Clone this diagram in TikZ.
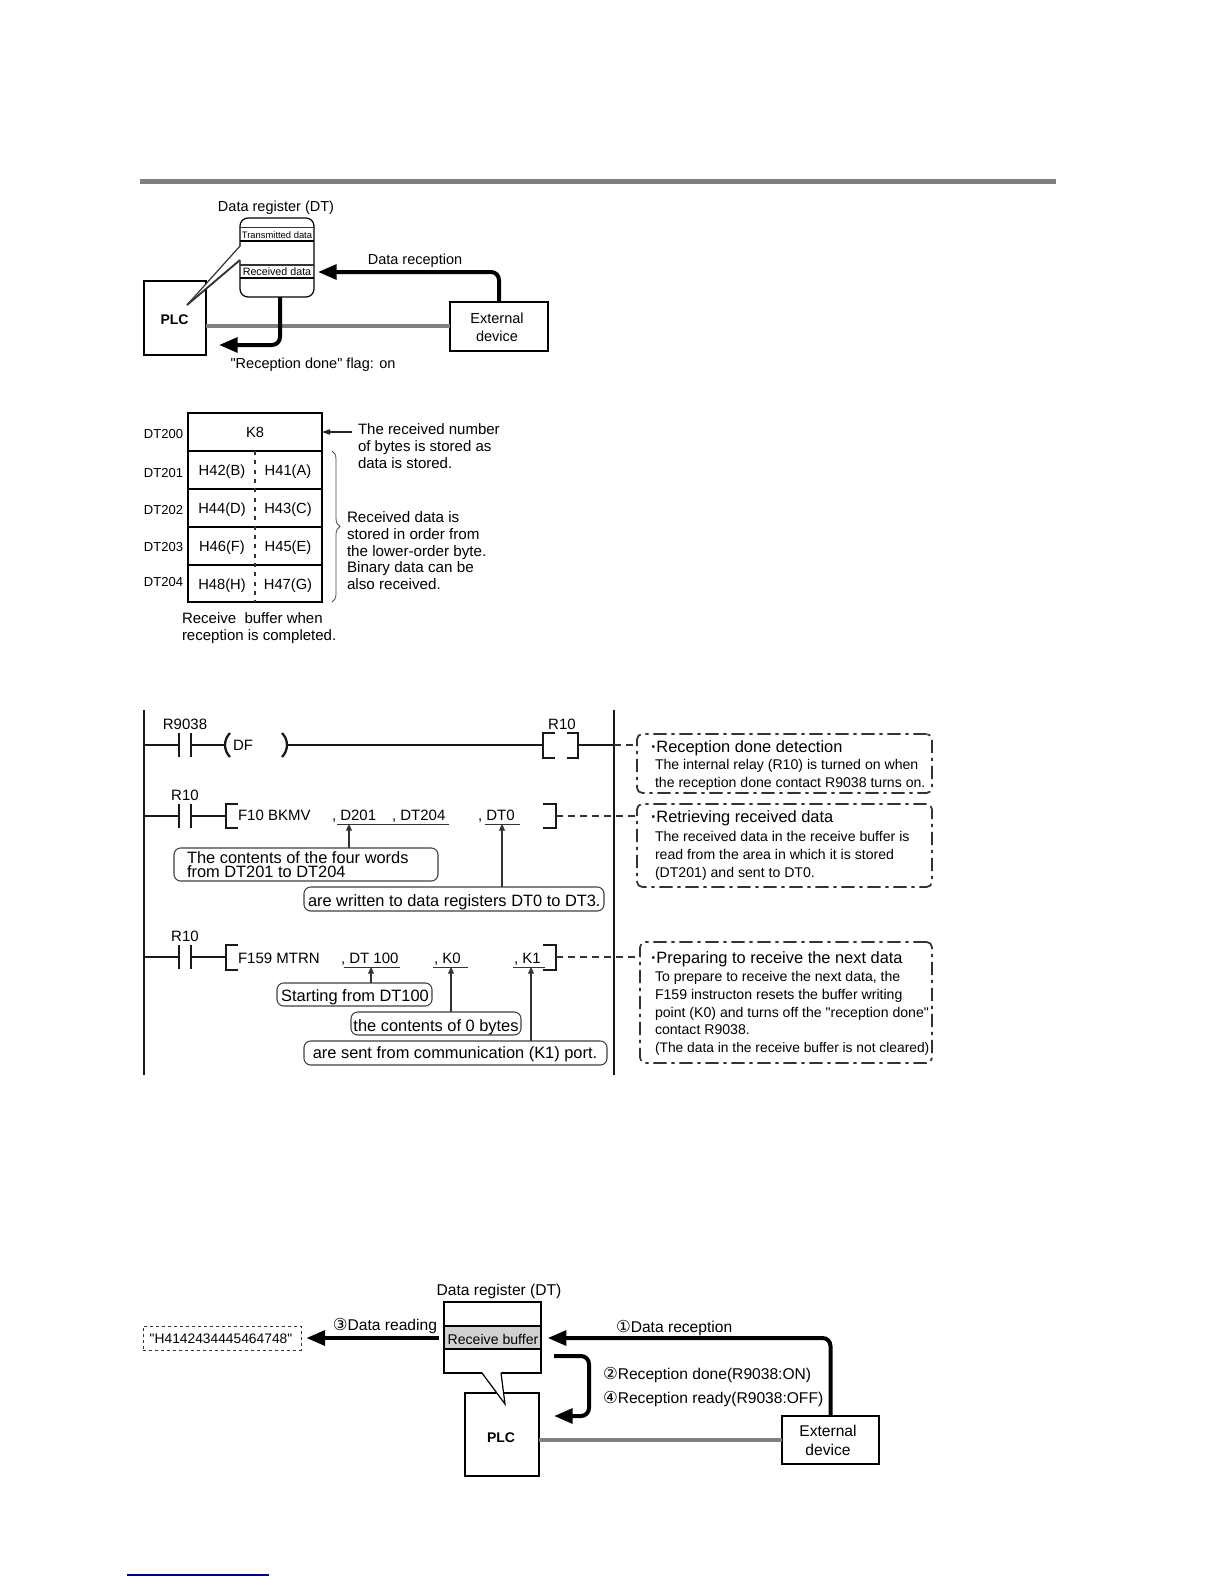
\documentclass[tikz,border=0pt]{standalone}
\usepackage{fontspec}
\setmainfont{Liberation Sans}
\newfontfamily\djv{DejaVu Sans}
\newfontfamily\plainf{Liberation Sans}
\newcommand{\qt}{{\plainf"}}
\usetikzlibrary{arrows.meta,decorations.pathreplacing,calc}
\newcommand{\fs}[1]{\fontsize{\fpeval{#1*0.75}pt}{\fpeval{#1*0.9}pt}\selectfont}
% \pbox{name}{x1}{y1}{x2}{y2}{style}{text}
\newcommand{\pbox}[7]{\node[#6,minimum width={(#4-#2)*0.75pt},minimum height={(#5-#3)*0.75pt}] (#1) at ({(#2+#4)/2},{(#3+#5)/2}) {#7};}
\tikzset{
  x=0.75pt,y=-0.75pt,
  txt/.style={inner sep=0pt,outer sep=0pt,text height=9.6pt,text depth=2pt},
  sbox/.style={draw=black,line width=1.9pt,fill=white,inner sep=0pt,outer sep=0pt},
  regbox/.style={draw=black,line width=0.9pt,fill=white,inner sep=0pt,outer sep=0pt},
  cell/.style={draw=black,line width=1pt,fill=white,inner sep=0pt,outer sep=0pt},
  cbx/.style={draw=black!75,line width=0.8pt,rounded corners=5pt,fill=white,inner sep=0pt,outer sep=0pt},
  cmt/.style={draw=black!80,line width=1.3pt,rounded corners=4pt,dash pattern=on 10pt off 3.5pt on 2.5pt off 3.5pt,inner sep=0pt,outer sep=0pt},
  lbl/.style={txt,font=\fs{15}},
  slbl/.style={txt,font=\fs{14.5}},
  blbl/.style={txt,font=\fs{15.6}},
  dtl/.style={txt,anchor=east,font=\fs{13}},
  lad/.style={txt,anchor=west,font=\fs{15}},
  cbt/.style={txt,font=\fs{16.4}},
  tt/.style={txt,anchor=west,font=\fs{16.4}},
  cl/.style={txt,anchor=west,font=\fs{14.1}},
  bigarrow/.style={draw=black,line width=3pt,rounded corners=6pt,-{Triangle[length=14pt,width=11pt]}},
  thinarrow/.style={draw=black!80,line width=0.8pt,-{Triangle[length=5pt,width=4.5pt]}},
  greyline/.style={draw=black!50,line width=3pt},
  rail/.style={draw=black!90,line width=1.9pt},
  wire/.style={draw=black!90,line width=1.4pt},
  linkdash/.style={draw=black!80,line width=0.8pt,dash pattern=on 5pt off 4pt},
  brk/.style={draw=black!90,line width=1.7pt},
}
\newcommand{\contact}[1]{
  \draw[rail] (179,#1-12) -- (179,#1+12);
  \draw[rail] (191,#1-12) -- (191,#1+12);
}
\begin{document}
\begin{tikzpicture}
\useasboundingbox (0,0) rectangle (1224,1584);
\fill[white] (0,0) rectangle (1224,1584);
% top rule
\fill[black!50] (140,179) rectangle (1056,184);

% ---- diagram 1
\node[slbl] (dr1) at (276,206) {Data register (DT)};
\pbox{ext1}{450}{302}{548}{351}{sbox}{}
\node[slbl] (ext1a) at (497,318) {External};
\node[slbl] (ext1b) at (497,336) {device};
\pbox{plc1}{144}{281}{206}{355}{sbox}{}
\node[txt,font=\fs{14}\bfseries] (plc1t) at (174.5,319) {PLC};
\draw[greyline] (plc1.east |- 0,326) -- (ext1.west |- 0,326);
\draw[regbox,rounded corners=6pt] (240,218) rectangle (314,297);
\node[inner sep=0,outer sep=0,minimum width=55.5pt,minimum height=59.25pt] (reg1) at (277,257.5) {};
\fill[white] (187,305) -- (241,246) -- (241,260) -- cycle;
\draw[black!80,line width=0.9pt] (187,305) -- (240,246);
\draw[black!80,line width=1.4pt] (187,305) -- (240,260);
\draw[black!80,line width=0.8pt] (240,227.5) -- (314,227.5) (240,265) -- (314,265);
\draw[black,line width=1pt] (240,241) -- (314,241) (240,278) -- (314,278);
\node[inner sep=0,font=\fs{9.4}] (tx1) at (277,235) {Transmitted data};
\node[inner sep=0,font=\fs{10.7}] (rx1) at (277,272) {Received data};
\coordinate (c1) at (reg1.east |- 0,272);
\draw[bigarrow,shorten >=3pt] (ext1.north) |- (c1);
\coordinate (c2) at (219,345);
\draw[bigarrow] (reg1.south -| 280,0) |- (c2);
\node[slbl] (dl1) at (415,259) {Data reception};
\node[slbl] (dl2) at (313,363.5) {\qt Reception done\qt{} flag: on};

% ---- diagram 2
\pbox{k8}{188}{413}{322}{451}{cell,font=\fs{14.7}}{K8}
\pbox{r1}{188}{451}{322}{489}{cell}{}
\pbox{r2}{188}{489}{322}{527}{cell}{}
\pbox{r3}{188}{527}{322}{565}{cell}{}
\pbox{r4}{188}{565}{322}{602}{cell}{}
\draw[black!80,line width=1pt,dash pattern=on 3pt off 4pt] (255,451) -- (255,602);
\foreach \n/\t/\y in {a/DT200/433,b/DT201/472,c/DT202/509,d/DT203/546,e/DT204/581}{\node[dtl] (\n) at (183,\y) {\t};}
\foreach \n/\t/\y in {e1/H42(B)/470,e2/H44(D)/508,e3/H46(F)/546,e4/H48(H)/584}{\node[lbl,font=\fs{14.7}] (\n) at (222,\y) {\t};}
\foreach \n/\t/\y in {f1/H41(A)/470,f2/H43(C)/508,f3/H45(E)/546,f4/H47(G)/584}{\node[lbl,font=\fs{14.7}] (\n) at (288,\y) {\t};}
\coordinate (c3) at (352,432);
\draw[black!85,line width=0.8pt,-{Triangle[length=6pt,width=4pt]}] (c3) -- (k8.east |- c3);
\foreach \n/\t/\y in {g1/The received number/429,g2/of bytes is stored as/446,g3/data is stored./463}{\node[lbl,anchor=west] (\n) at (358,\y) {\t};}
\draw[black!70,line width=0.6pt,decorate,decoration={brace,amplitude=6pt}] (332,451) -- (332,602);
\foreach \n/\t/\y in {h1/Received data is/517,h2/stored in order from/534,h3/the lower-order byte./551,h4/Binary data can be/567,h5/also received./584}{\node[lbl,font=\fs{15.2},anchor=west] (\n) at (347,\y) {\t};}
\node[lbl,anchor=west] (i1) at (182,618.5) {Receive\ \ buffer when};
\node[lbl,anchor=west] (i2) at (182,635.5) {reception is completed.};

% ---- ladder
\draw[rail] (144,710) -- (144,1075);
\draw[rail] (614,710) -- (614,1075);
% rung 1
\node[lad,anchor=center] (n1) at (185,724) {R9038};
\node[lad,anchor=center] (n2) at (562,724) {R10};
\contact{745}
\draw[wire] (144,745) -- (179,745) (191,745) -- (225,745);
\draw[brk] (230,733) to[bend right=45] (230,757);
\node[lad] (n3) at (233,745) {DF};
\draw[brk] (282,733) to[bend left=45] (282,757);
\draw[wire] (287,745) -- (543,745);
\draw[brk] (555,733) -- (543,733) -- (543,758) -- (555,758);
\draw[brk] (567,733) -- (578,733) -- (578,758) -- (567,758);
\draw[wire] (578,745) -- (614,745);
% rung 2
\node[lad,anchor=center] (n4) at (185,795) {R10};
\contact{816}
\draw[wire] (144,816) -- (179,816) (191,816) -- (226,816);
\draw[brk] (238,804) -- (226,804) -- (226,828) -- (238,828);
\node[lad] (n5) at (238,815) {F10 BKMV};
\node[lad] (n6) at (332,815) {, D201};
\node[lad] (n7) at (392,815) {, DT204};
\node[lad] (n8) at (478,815) {, DT0};
\draw[brk] (543,804) -- (556,804) -- (556,828) -- (543,828);
\coordinate (u1a) at (337,824); \coordinate (u1b) at (449,824);
\coordinate (u2a) at (485,824); \coordinate (u2b) at (520,824);
\draw[black!80,line width=0.7pt] (u1a) -- (u1b) (u2a) -- (u2b);
\pbox{b1}{174}{848}{438}{881}{cbx}{}
\node[cbt,anchor=west] (b1a) at (187,858) {The contents of the four words};
\node[cbt,anchor=west] (b1b) at (187,872) {from DT201 to DT204};
\pbox{b2}{304}{887}{604}{911}{cbx}{}
\node[cbt,anchor=west] (b2a) at (308,901) {are written to data registers DT0 to DT3.};
\coordinate (t1) at (349,824); \coordinate (t2) at (502,824);
\draw[thinarrow] (b1.north -| t1) -- (t1);
\draw[thinarrow] (b2.north -| t2) -- (t2);
% rung 3
\node[lad,anchor=center] (n9) at (185,936) {R10};
\contact{957}
\draw[wire] (144,957) -- (179,957) (191,957) -- (226,957);
\draw[brk] (238,945) -- (226,945) -- (226,970) -- (238,970);
\node[lad] (n10) at (238,958) {F159 MTRN};
\node[lad] (n11) at (341,958) {, DT 100};
\node[lad] (n12) at (434,958) {, K0};
\node[lad] (n13) at (514,958) {, K1};
\draw[brk] (543,945) -- (556,945) -- (556,970) -- (543,970);
\coordinate (u3a) at (344,967); \coordinate (u3b) at (400,967);
\coordinate (u4a) at (433,967); \coordinate (u4b) at (468,967);
\coordinate (u5a) at (513,967); \coordinate (u5b) at (545,967);
\draw[black!80,line width=0.7pt] (u3a) -- (u3b) (u4a) -- (u4b) (u5a) -- (u5b);
\pbox{b3}{277}{983}{432}{1006}{cbx}{}
\node[cbt] (b3a) at (355,996) {Starting from DT100};
\pbox{b4}{351}{1012}{521}{1035}{cbx}{}
\node[cbt] (b4a) at (436,1026) {the contents of 0 bytes};
\pbox{b5}{304}{1041}{607}{1065}{cbx}{}
\node[cbt] (b5a) at (455,1053) {are sent from communication (K1) port.};
\coordinate (t3) at (371,967); \coordinate (t4) at (451,967); \coordinate (t5) at (531,967);
\draw[thinarrow] (b3.north -| t3) -- (t3);
\draw[thinarrow] (b4.north -| t4) -- (t4);
\draw[thinarrow] (b5.north -| t5) -- (t5);

% ---- comment boxes
\pbox{m1}{637}{734}{932}{793}{cmt}{}
\pbox{m2}{637}{804}{932}{887}{cmt}{}
\pbox{m3}{640}{942}{932}{1063}{cmt}{}
\coordinate (s1) at (614,745); \coordinate (s2) at (556,816); \coordinate (s3) at (556,957);
\draw[linkdash] (s1) -- (s1 -| m1.west);
\draw[linkdash] (s2) -- (s2 -| m2.west);
\draw[linkdash] (s3) -- (s3 -| m3.west);
\node[tt] (m1t) at (651,747) {{\bfseries·}Reception done detection};
\node[cl] (m1a) at (655,764) {The internal relay (R10) is turned on when};
\node[cl] (m1b) at (655,782) {the reception done contact R9038 turns on.};
\node[tt] (m2t) at (651,817) {{\bfseries·}Retrieving received data};
\node[cl] (m2a) at (655,836) {The received data in the receive buffer is};
\node[cl] (m2b) at (655,854) {read from the area in which it is stored};
\node[cl] (m2c) at (655,872) {(DT201) and sent to DT0.};
\node[tt] (m3t) at (651,958) {{\bfseries·}Preparing to receive the next data};
\node[cl] (m3a) at (655,976) {To prepare to receive the next data, the};
\node[cl] (m3b) at (655,994) {F159 instructon resets the buffer writing};
\node[cl] (m3c) at (655,1012) {point (K0) and turns off the \qt reception done\qt};
\node[cl] (m3d) at (655,1029) {contact R9038.};
\node[cl,font=\fs{13.8}] (m3e) at (655,1047) {(The data in the receive buffer is not cleared)};

% ---- diagram 3
\node[blbl] (dr3) at (499,1290.5) {Data register (DT)};
\pbox{plc3}{465}{1393}{539}{1476}{sbox}{}
\node[txt,font=\fs{14}\bfseries] (plc3t) at (501,1437.5) {PLC};
\pbox{ext3}{782}{1416}{879}{1464}{sbox}{}
\node[blbl] (ext3a) at (828,1431) {External};
\node[blbl] (ext3b) at (828,1450) {device};
\draw[greyline] (plc3.east |- 0,1440) -- (ext3.west |- 0,1440);
\pbox{reg3}{444}{1302}{541}{1373}{regbox}{}
\pbox{buf3}{444}{1326}{541}{1349}{regbox,fill=black!18}{}
\node[lbl,font=\fs{14.1}] (buft) at (493,1339) {Receive buffer};
\fill[white] (482,1372) -- (505,1404) -- (501,1372) -- cycle;
\draw[black,line width=0.9pt] (482,1373) -- (505,1404) -- (501,1373);
\pbox{rd3}{143}{1326}{301}{1350}{draw=black!80,line width=0.7pt,dash pattern=on 2.5pt off 2pt,inner sep=0pt,outer sep=0pt}{}
\node[txt,font=\fs{13.8}] (rd3t) at (221,1338) {\qt H4142434445464748\qt};
\coordinate (c5) at (reg3.west |- 0,1338);
\draw[bigarrow,shorten <=4pt,shorten >=4pt] (c5) -- (c5 -| rd3.east);
\coordinate (c6) at (reg3.east |- 0,1338);
\draw[bigarrow,shorten >=5pt] (ext3.north -| 830.5,0) |- (c6);
\coordinate (c7) at (554,1356); \coordinate (c8) at (554,1416);
\draw[bigarrow] (c7) -- (589,1356) -- (589,1416) -- (c8);
\node[blbl,anchor=east] (rt1) at (437,1325) {{\djv\fs{16.5}③}Data reading};
\node[blbl,anchor=west] (rt2) at (616,1327) {{\djv\fs{16.5}①}Data reception};
\node[blbl,anchor=west] (rt3) at (603,1374.5) {{\djv\fs{16.5}②}Reception done(R9038:ON)};
\node[blbl,anchor=west] (rt4) at (603,1398.5) {{\djv\fs{16.5}④}Reception ready(R9038:OFF)};

% footnote rule
\fill[blue!55!black] (127,1574.2) rectangle (269,1575.6);
\end{tikzpicture}
\end{document}
